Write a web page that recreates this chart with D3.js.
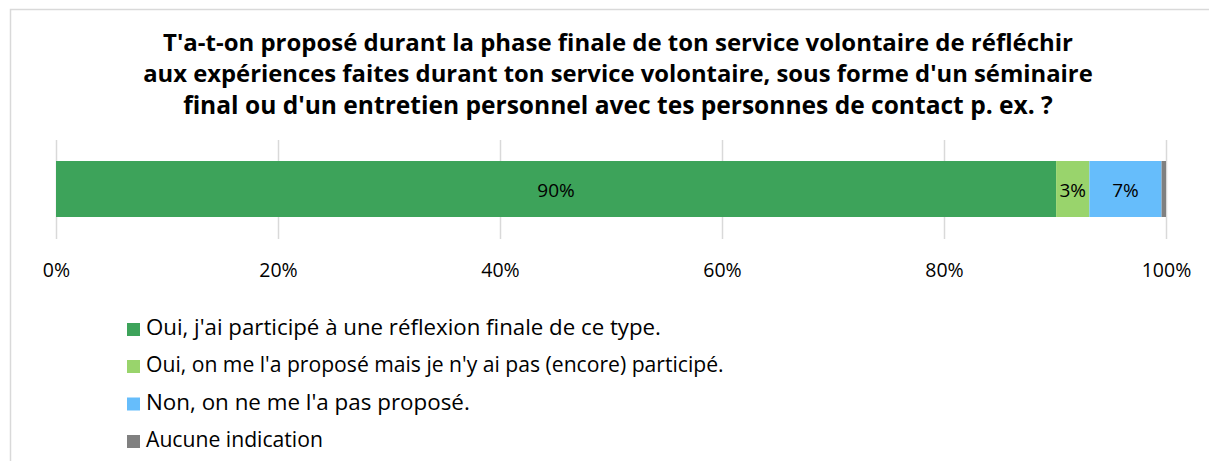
<!DOCTYPE html>
<html>
<head>
<meta charset="utf-8">
<script src="https://cdn.jsdelivr.net/npm/d3@7"></script>
<style>
  body { margin: 0; background: #fff; }
  svg { display: block; font-family: "Open Sans", "Noto Sans", sans-serif; }
</style>
</head>
<body>
<svg id="chart" width="1209" height="461"></svg>
<script>
const titleLines = [
    "T'a-t-on proposé durant la phase finale de ton service volontaire de réfléchir",
    "aux expériences faites durant ton service volontaire, sous forme d'un séminaire",
    "final ou d'un entretien personnel avec tes personnes de contact p. ex. ?"
];
const categories = [
    "Oui, j'ai participé à une réflexion finale de ce type.",
    "Oui, on me l'a proposé mais je n'y ai pas (encore) participé.",
    "Non, on ne me l'a pas proposé.",
    "Aucune indication"
];
const values = [90.1, 3.0, 6.5, 0.4];
const labels = ["90%", "3%", "7%", ""];
const tickValues = [0, 20, 40, 60, 80, 100];
const colors = ['#3da35a', '#99d46c', '#66bdfb', '#808080'];

const width = 1209, height = 461;
const svg = d3.select('#chart');

// frame (chart area border, cut by the window)
svg.append('path')
    .attr('d', `M10.5,${height} V9.5 H${width}`)
    .attr('fill', 'none')
    .attr('stroke', '#d9d9d9')
    .attr('stroke-width', 1.5);

// fit a text element to a target width
function fitWidth(sel, target) {
    const node = sel.node();
    const fs = parseFloat(sel.attr('font-size'));
    const w = node.getComputedTextLength();
    sel.attr('font-size', (fs * target / w).toFixed(2));
}

const title = svg.append('g');
const titleY = [45, 76, 107];
const titleW = [910, 950, 870];
titleLines.forEach((t, i) => {
    const tx = title.append('text')
        .attr('x', 618)
        .attr('y', titleY[i])
        .attr('text-anchor', 'middle')
        .attr('dominant-baseline', 'middle')
        .attr('font-weight', 'bold')
        .attr('font-size', 20)
        .attr('fill', '#000')
        .text(t);
    fitWidth(tx, titleW[i]);
});

const x = d3.scaleLinear().domain([0, 100]).range([56, 1166]);
const barTop = 161, barH = 56;

// grid
svg.append('g')
    .selectAll('line')
    .data(tickValues)
    .join('line')
    .attr('x1', d => Math.round(x(d)) + 0.5)
    .attr('x2', d => Math.round(x(d)) + 0.5)
    .attr('y1', 140)
    .attr('y2', 239)
    .attr('stroke', '#d9d9d9')
    .attr('stroke-width', 1.5);

// stacked bar
let acc = 0;
const segs = values.map((v, i) => {
    const s = {x0: acc, x1: acc + v, color: colors[i], label: labels[i]};
    acc += v;
    return s;
});

svg.append('g')
    .selectAll('rect')
    .data(segs)
    .join('rect')
    .attr('x', d => x(d.x0))
    .attr('y', barTop)
    .attr('width', d => x(d.x1) - x(d.x0))
    .attr('height', barH)
    .attr('fill', d => d.color);

svg.append('g')
    .selectAll('text')
    .data(segs.filter(d => d.label))
    .join('text')
    .attr('x', d => (x(d.x0) + x(d.x1)) / 2)
    .attr('y', 196.5)
    .attr('text-anchor', 'middle')
    .attr('font-size', 19)
    .attr('fill', '#000')
    .text(d => d.label);

// axis labels
const axis = d3.axisBottom(x)
    .tickValues(tickValues)
    .tickFormat(d => d + '%')
    .tickSize(0)
    .tickPadding(0);
const ax = svg.append('g')
    .attr('transform', 'translate(0,259)')
    .call(axis);
ax.select('.domain').remove();
ax.selectAll('text')
    .attr('y', 18)
    .attr('dy', null)
    .attr('font-family', '"Open Sans", "Noto Sans", sans-serif')
    .attr('font-size', 19.5)
    .attr('fill', '#000');

// legend
const legendY = [329.5, 366.5, 404, 441.5];
const legendW = [515, 578, 324, 177];
const leg = svg.append('g')
    .selectAll('g')
    .data(categories)
    .join('g')
    .attr('transform', (d, i) => `translate(127,${legendY[i]})`);
leg.append('rect')
    .attr('x', 0)
    .attr('y', -6.5)
    .attr('width', 13)
    .attr('height', 13)
    .attr('fill', (d, i) => colors[i]);
leg.append('text')
    .attr('x', 19)
    .attr('y', 0)
    .attr('dominant-baseline', 'middle')
    .attr('font-size', 16.5)
    .attr('fill', '#000')
    .text(d => d)
    .each(function (d, i) { fitWidth(d3.select(this), legendW[i]); });
</script>
</body>
</html>
